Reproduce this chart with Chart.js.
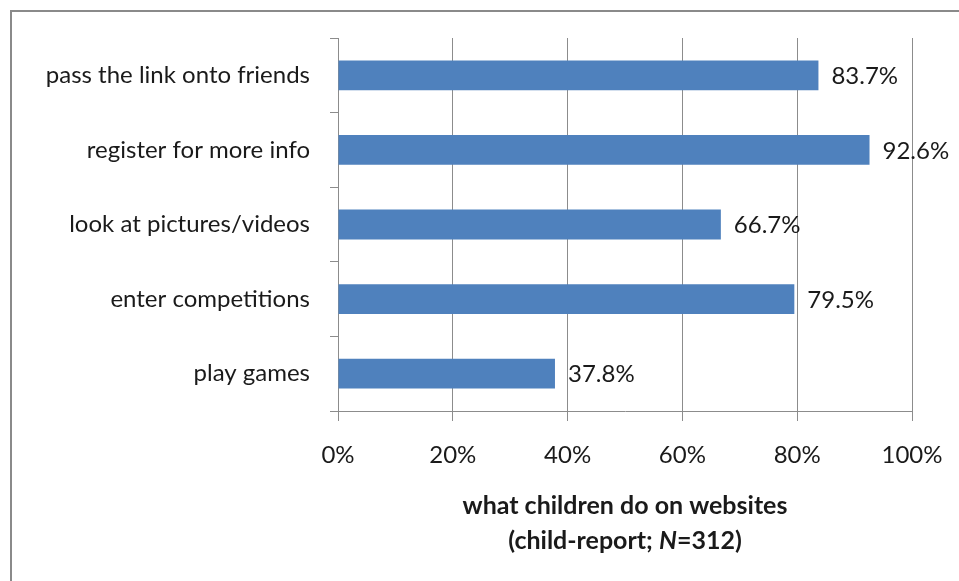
<!DOCTYPE html>
<html>
<head>
<meta charset="utf-8">
<script src="https://cdn.jsdelivr.net/npm/chart.js@4/dist/chart.umd.min.js"></script>
<style>
  html, body { margin: 0; padding: 0; background: #fff; }
  #wrap { width: 959px; height: 581px; position: relative; }
</style>
</head>
<body>
<div id="wrap"><canvas id="chart" width="959" height="581"></canvas></div>
<script>
const categories = ['pass the link onto friends', 'register for more info', 'look at pictures/videos', 'enter competitions', 'play games']
const values = [83.7, 92.6, 66.7, 79.5, 37.8]
const xTicks = [0, 20, 40, 60, 80, 100]
const titleLine1 = 'what children do on websites'
const titleLine2 = ['(child-report; ', 'N', '=312)']

const FONT = 'Lato, Calibri, sans-serif'
const SIZE = 24
const GRID = '#8c8c8c'

// frame around the chart (only top and left edges are visible)
const framePlugin = {
    id: 'frame',
    beforeDraw(chart) {
        const ctx = chart.ctx
        ctx.save()
        ctx.strokeStyle = '#8a8a8a'
        ctx.lineWidth = 2
        ctx.beginPath()
        ctx.moveTo(11, 600)
        ctx.lineTo(11, 11)
        ctx.lineTo(980, 11)
        ctx.stroke()
        ctx.restore()
    }
}

// value labels at the end of each bar
const valueLabels = {
    id: 'valueLabels',
    afterDatasetsDraw(chart) {
        const ctx = chart.ctx
        ctx.save()
        ctx.font = SIZE + 'px ' + FONT
        ctx.fillStyle = '#1a1a1a'
        ctx.textAlign = 'left'
        ctx.textBaseline = 'middle'
        chart.getDatasetMeta(0).data.forEach((bar, i) => {
            ctx.fillText(values[i].toFixed(1) + '%', bar.x + 13, bar.y + 1)
        })
        ctx.restore()
    }
}

// two line axis title, with italic N
const axisTitle = {
    id: 'axisTitle',
    afterDraw(chart) {
        const ctx = chart.ctx
        const area = chart.chartArea
        const cx = (area.left + area.right) / 2
        const bold = 'bold 25px ' + FONT
        ctx.save()
        ctx.fillStyle = '#1a1a1a'
        ctx.textBaseline = 'middle'
        ctx.textAlign = 'center'
        ctx.font = bold
        ctx.fillText(titleLine1, cx, area.bottom + 95)

        const fonts = [bold, 'italic ' + bold, bold]
        let total = 0
        const widths = titleLine2.map((t, i) => {
            ctx.font = fonts[i]
            const w = ctx.measureText(t).width
            total += w
            return w
        })
        ctx.textAlign = 'left'
        let x = cx - total / 2
        titleLine2.forEach((t, i) => {
            ctx.font = fonts[i]
            ctx.fillText(t, x, area.bottom + 130)
            x += widths[i]
        })
        ctx.restore()
    }
}

new Chart(document.getElementById('chart'), {
    type: 'bar',
    data: {
        labels: categories,
        datasets: [{
            data: values,
            backgroundColor: '#4f81bd',
            borderWidth: 0,
            categoryPercentage: 1,
            barPercentage: 0.4
        }]
    },
    options: {
        indexAxis: 'y',
        responsive: false,
        animation: false,
        layout: { padding: { top: 38, right: 47, left: 0, bottom: 0 } },
        plugins: {
            legend: { display: false },
            tooltip: { enabled: false }
        },
        scales: {
            x: {
                min: 0,
                max: 100,
                afterBuildTicks(scale) {
                    scale.ticks = xTicks.map(v => ({ value: v }))
                },
                afterFit(scale) {
                    scale.height = 170
                    scale.paddingLeft = 0
                    scale.paddingRight = 0
                },
                grid: { color: GRID, lineWidth: 1, tickLength: 10, drawTicks: true },
                border: { color: GRID, width: 1 },
                ticks: {
                    font: { family: FONT, size: SIZE },
                    color: '#1a1a1a',
                    padding: 20,
                    callback: v => v + '%'
                }
            },
            y: {
                afterFit(scale) {
                    scale.width = 338
                    scale.paddingTop = 0
                    scale.paddingBottom = 0
                },
                grid: { drawOnChartArea: false, color: GRID, tickLength: 8, offset: true },
                border: { color: GRID, width: 1 },
                ticks: {
                    font: { family: FONT, size: SIZE },
                    color: '#1a1a1a',
                    padding: 20
                }
            }
        }
    },
    plugins: [framePlugin, valueLabels, axisTitle]
})
</script>
</body>
</html>
